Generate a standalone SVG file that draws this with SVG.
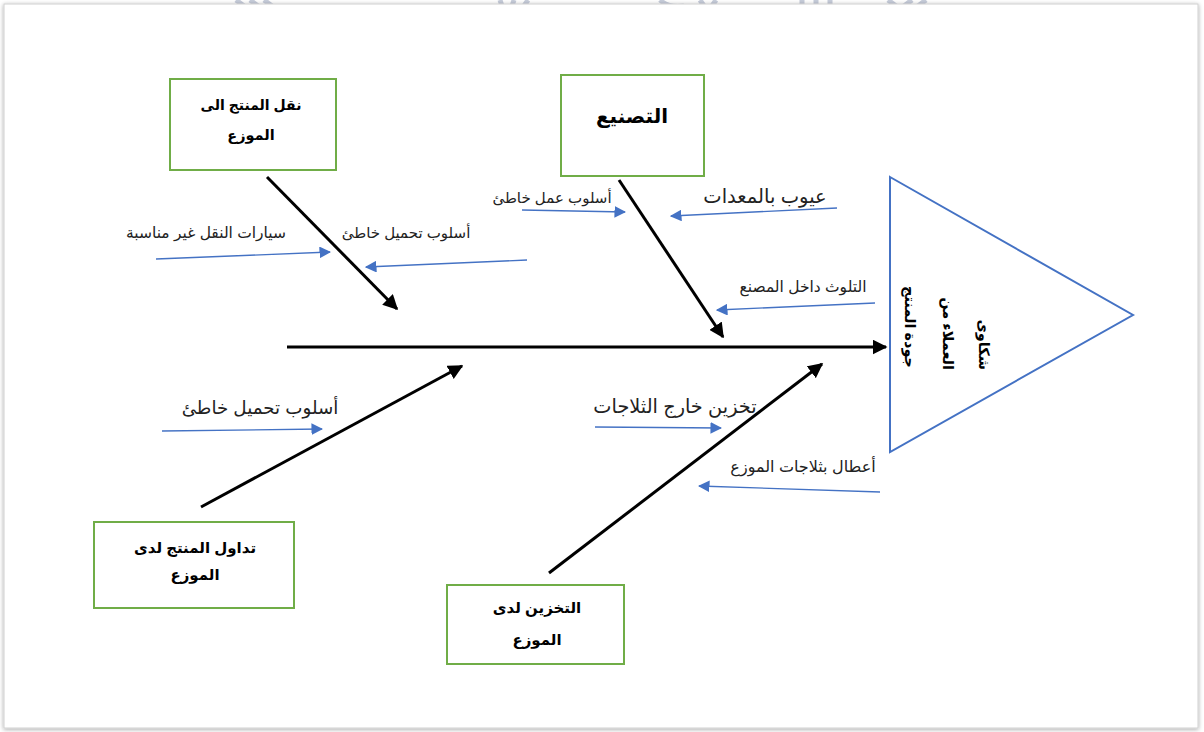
<svg xmlns="http://www.w3.org/2000/svg" width="1204" height="732" viewBox="0 0 1204 732">
  <defs>
    <style>
      .box { fill: #ffffff; stroke: #70ad47; stroke-width: 2; }
      .bone { stroke: #000000; stroke-width: 3; fill: none; }
      .cause { stroke: #4472c4; stroke-width: 1.3; fill: none; }
      .head { fill: #ffffff; stroke: #4472c4; stroke-width: 2; }
      .title { font-family: "Liberation Sans", "DejaVu Sans", sans-serif; font-weight: bold; fill: #000000; text-anchor: middle; }
      .vtitle { font-family: "Liberation Sans", "DejaVu Sans", sans-serif; font-weight: bold; fill: #000000; text-anchor: end; font-size: 14.5px; }
      .lbl { font-family: "Liberation Sans", "DejaVu Sans", sans-serif; fill: #222222; text-anchor: middle; }
      .mark { stroke: #c6ccda; stroke-width: 5; fill: none; }
    </style>
    <marker id="arrBlack" viewBox="0 0 10 10" refX="9" refY="5" markerWidth="5" markerHeight="5" orient="auto" markerUnits="strokeWidth">
      <path d="M0,0 L10,5 L0,10 z" fill="#000000"/>
    </marker>
    <marker id="arrBlue" viewBox="0 0 10 10" refX="9" refY="5" markerWidth="9" markerHeight="9" orient="auto" markerUnits="strokeWidth">
      <path d="M0,0 L10,5 L0,10 z" fill="#4472c4"/>
    </marker>
    <filter id="pageShadow" x="-2%" y="-2%" width="104%" height="104%">
      <feDropShadow dx="0" dy="1" stdDeviation="2" flood-color="#000000" flood-opacity="0.35"/>
    </filter>
  </defs>

  <!-- background and faint header ornament -->
  <rect x="0" y="0" width="1204" height="732" fill="#ffffff"/>
  <g id="ornament">
    <path class="mark" d="M236,0 L244,6 M250,0 L258,6 M264,0 L272,6"/>
    <path class="mark" d="M500,0 L502,6 M514,0 L512,6 M528,0 L524,6"/>
    <path class="mark" d="M660,0 Q668,8 684,6 M700,0 L704,6 M716,0 L712,6"/>
    <path class="mark" d="M802,0 L802,6 M816,0 L816,6 M830,0 L830,6"/>
    <path class="mark" d="M888,0 L896,6 M912,0 L904,6 M926,0 L918,6"/>
  </g>

  <!-- page -->
  <rect x="4" y="4" width="1194" height="724" fill="#ffffff" stroke="#d0d0d0" stroke-width="1" filter="url(#pageShadow)"/>

  <!-- connectors -->
  <g id="connectors">
    <line class="bone" x1="287" y1="347" x2="886" y2="347" marker-end="url(#arrBlack)"/>
    <line class="bone" x1="267" y1="177" x2="397" y2="309" marker-end="url(#arrBlack)"/>
    <line class="bone" x1="619" y1="180" x2="723" y2="337" marker-end="url(#arrBlack)"/>
    <line class="bone" x1="201" y1="507" x2="462" y2="366" marker-end="url(#arrBlack)"/>
    <line class="bone" x1="549" y1="573" x2="822" y2="364" marker-end="url(#arrBlack)"/>

    <line class="cause" x1="156" y1="259" x2="330" y2="252" marker-end="url(#arrBlue)"/>
    <line class="cause" x1="527" y1="260" x2="366" y2="267" marker-end="url(#arrBlue)"/>
    <line class="cause" x1="522" y1="210" x2="625" y2="212" marker-end="url(#arrBlue)"/>
    <line class="cause" x1="837" y1="208" x2="671" y2="216" marker-end="url(#arrBlue)"/>
    <line class="cause" x1="875" y1="303" x2="717" y2="310" marker-end="url(#arrBlue)"/>
    <line class="cause" x1="162" y1="431" x2="322" y2="429" marker-end="url(#arrBlue)"/>
    <line class="cause" x1="595" y1="427" x2="721" y2="428" marker-end="url(#arrBlue)"/>
    <line class="cause" x1="880" y1="492" x2="699" y2="486" marker-end="url(#arrBlue)"/>
  </g>

  <!-- cause labels -->
  <g id="causes">
    <text class="lbl" x="206" y="238" font-size="15.5">سيارات النقل غير مناسبة</text>
    <text class="lbl" x="406" y="238" font-size="15">أسلوب تحميل خاطئ</text>
    <text class="lbl" x="552" y="203" font-size="15">أسلوب عمل خاطئ</text>
    <text class="lbl" x="765" y="203" font-size="19.5">عيوب بالمعدات</text>
    <text class="lbl" x="803" y="292" font-size="15.5">التلوث داخل المصنع</text>
    <text class="lbl" x="260" y="414" font-size="18.3">أسلوب تحميل خاطئ</text>
    <text class="lbl" x="675" y="413" font-size="19.3">تخزين خارج الثلاجات</text>
    <text class="lbl" x="803" y="472" font-size="16">أعطال بثلاجات الموزع</text>
  </g>

  <!-- category boxes -->
  <g id="transport">
    <rect class="box" x="170" y="79" width="166" height="91"/>
    <text class="title" x="251" y="110" font-size="14">نقل المنتج الى</text>
    <text class="title" x="251" y="140" font-size="14.5">الموزع</text>
  </g>
  <g id="manufacturing">
    <rect class="box" x="561" y="75" width="143" height="101"/>
    <text class="title" x="632" y="123" font-size="20">التصنيع</text>
  </g>
  <g id="handling">
    <rect class="box" x="94" y="522" width="200" height="86"/>
    <text class="title" x="195" y="553" font-size="15">تداول المنتج لدى</text>
    <text class="title" x="195" y="580" font-size="15">الموزع</text>
  </g>
  <g id="storage">
    <rect class="box" x="447" y="585" width="177" height="79"/>
    <text class="title" x="537" y="613" font-size="15">التخزين لدى</text>
    <text class="title" x="537" y="645" font-size="15">الموزع</text>
  </g>

  <!-- effect head, label set vertically -->
  <g id="effect">
    <polygon class="head" points="890,177 1133,315 890,452"/>
    <text class="vtitle" transform="translate(979,370) rotate(90)">شكاوى</text>
    <text class="vtitle" transform="translate(943,370) rotate(90)">العملاء من</text>
    <text class="vtitle" transform="translate(905,368) rotate(90)">جودة المنتج</text>
  </g>
</svg>
